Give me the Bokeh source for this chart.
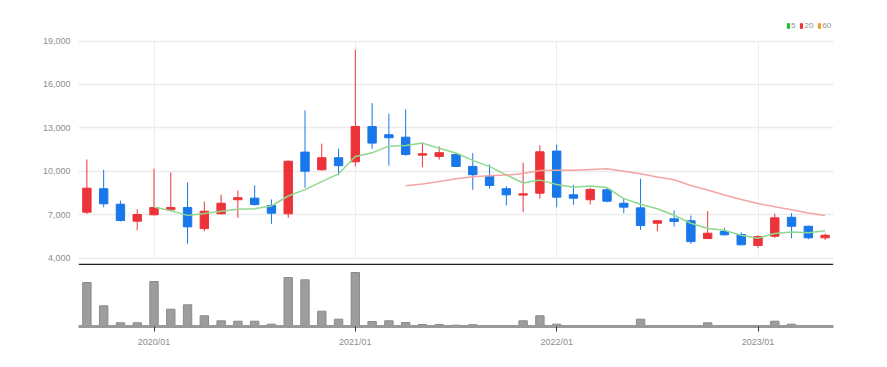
import pandas as pd
from bokeh.plotting import figure
from bokeh.models import (Range1d, FixedTicker, Span, Legend, LegendItem,
                          ColumnDataSource, NumeralTickFormatter)
from bokeh.layouts import column
from bokeh.embed import file_html
from bokeh.resources import INLINE

months = ["2019/09", "2019/10", "2019/11", "2019/12",
          "2020/01", "2020/02", "2020/03", "2020/04", "2020/05", "2020/06",
          "2020/07", "2020/08", "2020/09", "2020/10", "2020/11", "2020/12",
          "2021/01", "2021/02", "2021/03", "2021/04", "2021/05", "2021/06",
          "2021/07", "2021/08", "2021/09", "2021/10", "2021/11", "2021/12",
          "2022/01", "2022/02", "2022/03", "2022/04", "2022/05", "2022/06",
          "2022/07", "2022/08", "2022/09", "2022/10", "2022/11", "2022/12",
          "2023/01", "2023/02", "2023/03", "2023/04", "2023/05"]

open_ = [7180, 8800, 7730, 6560, 7000, 7350, 7500, 6050, 7070, 8040,
         8150, 7640, 7070, 11330, 10110, 10940, 10660, 13100, 12530, 12360,
         11120, 11030, 11170, 10340, 9670, 8800, 8360, 8490, 11400, 8380,
         8040, 8730, 7800, 7480, 6420, 6720, 6590, 5360, 5850, 5640,
         4880, 5520, 6830, 6210, 5410]
high = [10820, 10110, 7970, 7390, 10180, 9920, 9230, 7920, 8400, 8680,
        9030, 8060, 10750, 14210, 11910, 11560, 18400, 14710, 13980, 14280,
        11980, 11720, 11250, 11260, 10480, 8980, 10590, 11790, 11860, 9070,
        8870, 8870, 8110, 9490, 6600, 7300, 6950, 7250, 6100, 5800,
        5570, 7070, 7110, 6260, 5690]
low = [7070, 7520, 6540, 5920, 6950, 7300, 5000, 5870, 7020, 6790,
       7640, 6380, 6790, 8870, 10050, 9720, 10340, 11560, 10390, 11080,
       10290, 10820, 10290, 8730, 8800, 7640, 7180, 8110, 7520, 7690,
       7710, 7870, 7110, 5960, 5870, 6190, 5000, 5330, 5570, 4900,
       4720, 5410, 5380, 5310, 5270]
close = [8840, 7760, 6610, 7020, 7500, 7500, 6170, 7250, 7800, 8180,
         7710, 7110, 10700, 10010, 10940, 10390, 13100, 11950, 12320, 11170,
         11220, 11290, 10340, 9770, 9030, 8380, 8450, 11350, 8220, 8150,
         8750, 7940, 7530, 6260, 6590, 6540, 5150, 5730, 5620, 4930,
         5500, 6790, 6210, 5410, 5590]
volume = [440000, 207000, 37000, 37000, 450000, 173000, 217000, 107000, 57000, 53000,
          53000, 23000, 490000, 467000, 153000, 73000, 540000, 50000, 57000, 40000,
          20000, 20000, 13000, 18000, 10000, 10000, 57000, 107000, 23000, 10000,
          10000, 5000, 7000, 73000, 10000, 10000, 10000, 37000, 7000, 3000,
          3000, 53000, 23000, 7000, 5000]

ma_periods = [5, 20, 60]
y_ticks = [4000, 7000, 10000, 13000, 16000, 19000]
x_tick_labels = ["2020/01", "2021/01", "2022/01", "2023/01"]

FONT = "Liberation Sans"
RED = "#ec3339"
BLUE = "#1877ea"
TXT = "#8e8e8e"

x = list(range(len(months)))
up = [c >= o for o, c in zip(open_, close)]
src = ColumnDataSource(dict(
    x=x, high=high, low=low,
    top=[max(o, c) for o, c in zip(open_, close)],
    bottom=[min(o, c) for o, c in zip(open_, close)],
    color=[RED if u else BLUE for u in up],
    vol=volume,
))
cs = pd.Series(close, dtype=float)
mas = {n: cs.rolling(n).mean().tolist() for n in ma_periods}

xr = Range1d(-0.5, len(months) - 0.5)
tick_pos = [months.index(m) for m in x_tick_labels]

p = figure(width=873, height=265, x_range=xr, y_range=Range1d(3500, 20900),
           output_backend="svg", toolbar_location=None,
           min_border_left=78, min_border_right=40, min_border_top=13,
           min_border_bottom=0)
p.outline_line_color = None
p.xaxis.visible = False
p.yaxis.ticker = FixedTicker(ticks=y_ticks)
p.yaxis.formatter = NumeralTickFormatter(format="0,0")
p.yaxis.axis_line_color = None
p.yaxis.major_tick_line_color = None
p.yaxis.minor_tick_line_color = None
p.yaxis.major_label_standoff = 2
p.yaxis.major_label_text_font = FONT
p.yaxis.major_label_text_font_size = "9px"
p.yaxis.major_label_text_color = TXT
p.ygrid.grid_line_color = "#ececec"
p.ygrid.grid_line_width = 1.5
p.xgrid.ticker = FixedTicker(ticks=tick_pos)
p.xgrid.grid_line_color = "#eeeeee"
p.xgrid.grid_line_width = 1
if "cross_bounds" in p.xgrid.properties():
    p.xgrid.cross_bounds = (y_ticks[0], y_ticks[-1])

p.segment("x", "high", "x", "low", source=src, line_color="color", line_width=1)
p.vbar(x="x", width=0.5, top="top", bottom="bottom", source=src,
       fill_color="color", line_color="color")

ma_line_colors = {5: "#8fd88f", 20: "#f3a5a5", 60: "#f7c08a"}
for n in ma_periods:
    p.line(x, mas[n], line_color=ma_line_colors[n], line_width=1.5)

p.add_layout(Span(location=3560, dimension="width", line_color="#222222",
                  line_width=2))

# legend swatches (hidden renderers, only used for the legend)
leg_colors = {5: "#22c02e", 20: "#ee3535", 60: "#f49a2c"}
items = []
for n in ma_periods:
    r = p.quad(left=[x[0]], right=[x[0]], top=[close[0]], bottom=[close[0]],
               fill_color=leg_colors[n], line_color=None)
    r.visible = False
    items.append(LegendItem(label=str(n), renderers=[r]))
legend = Legend(items=items, orientation="horizontal", location=(708, 235),
                glyph_width=4, glyph_height=7, label_standoff=1, spacing=4,
                label_width=0, label_height=7, padding=0, margin=0,
                border_line_color=None, background_fill_alpha=0,
                inactive_fill_alpha=0,
                label_text_font=FONT, label_text_font_size="8px",
                label_text_color=TXT)
p.add_layout(legend)

p2 = figure(width=873, height=91, x_range=xr, y_range=Range1d(0, 600000),
            output_backend="svg", toolbar_location=None,
            min_border_left=78, min_border_right=40, min_border_top=1,
            min_border_bottom=30)
p2.outline_line_color = None
p2.yaxis.visible = False
p2.grid.visible = False
p2.vbar(x="x", width=0.5, top="vol", bottom=0, source=src,
        fill_color="#9d9d9d", line_color="#8a8a8a")
p2.xaxis.ticker = FixedTicker(ticks=tick_pos)
p2.xaxis.major_label_overrides = {i: months[i] for i in tick_pos}
p2.xaxis.axis_line_color = "#999999"
p2.xaxis.axis_line_width = 3
p2.xaxis.major_tick_line_color = "#333333"
p2.xaxis.major_tick_out = 5
p2.xaxis.major_tick_in = 0
p2.xaxis.minor_tick_line_color = None
p2.xaxis.major_label_standoff = 5
p2.xaxis.major_label_text_font = FONT
p2.xaxis.major_label_text_font_size = "9px"
p2.xaxis.major_label_text_color = TXT

layout = column(p, p2, spacing=0)
open("out.html", "w").write(file_html(layout, INLINE))
